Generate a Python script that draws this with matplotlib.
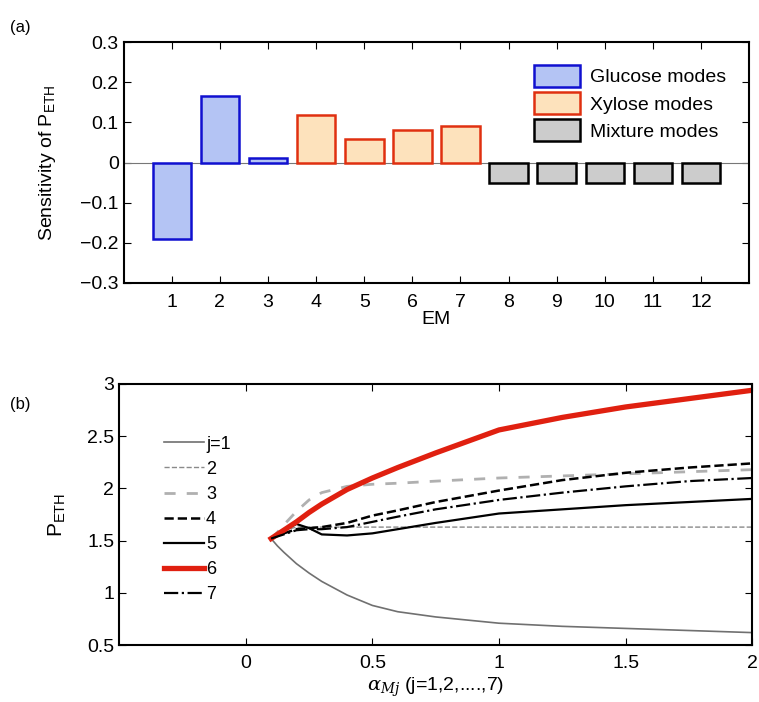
import matplotlib.pyplot as plt
import numpy as np

# (a) sensitivity per elementary mode
em = np.arange(1, 13)
sens = [-0.19, 0.165, 0.012, 0.118, 0.058, 0.080, 0.092,
        -0.052, -0.052, -0.052, -0.052, -0.052]
groups = ['g', 'g', 'g', 'x', 'x', 'x', 'x', 'm', 'm', 'm', 'm', 'm']
group_names = {'g': 'Glucose modes', 'x': 'Xylose modes', 'm': 'Mixture modes'}
fills = {'g': '#b4c4f4', 'x': '#fde2bc', 'm': '#cccccc'}
edges = {'g': '#1010d0', 'x': '#e03010', 'm': '#000000'}

# (b) P_ETH vs alpha
alpha = [0.1, 0.125, 0.15, 0.2, 0.25, 0.3, 0.4, 0.5, 0.6, 0.75, 1.0, 1.25, 1.5, 1.75, 2.0]
p1 = [1.52, 1.45, 1.39, 1.28, 1.19, 1.11, 0.98, 0.88, 0.82, 0.77, 0.71, 0.68, 0.66, 0.64, 0.62]
p2 = [1.52, 1.56, 1.60, 1.63, 1.63, 1.63, 1.63, 1.63, 1.63, 1.63, 1.63, 1.63, 1.63, 1.63, 1.63]
p3 = [1.52, 1.58, 1.65, 1.78, 1.89, 1.96, 2.02, 2.04, 2.05, 2.07, 2.10, 2.12, 2.14, 2.16, 2.18]
p4 = [1.52, 1.55, 1.57, 1.61, 1.62, 1.63, 1.67, 1.74, 1.79, 1.87, 1.98, 2.08, 2.15, 2.20, 2.24]
p5 = [1.52, 1.56, 1.60, 1.66, 1.62, 1.56, 1.55, 1.57, 1.61, 1.67, 1.76, 1.80, 1.84, 1.87, 1.90]
p6 = [1.52, 1.56, 1.60, 1.68, 1.77, 1.85, 1.99, 2.10, 2.20, 2.34, 2.56, 2.68, 2.78, 2.86, 2.94]
p7 = [1.52, 1.54, 1.56, 1.60, 1.61, 1.61, 1.63, 1.68, 1.73, 1.80, 1.89, 1.96, 2.02, 2.07, 2.10]

plt.rcParams['font.family'] = ['Liberation Sans', 'DejaVu Sans']
plt.rcParams['mathtext.fontset'] = 'custom'
plt.rcParams['mathtext.rm'] = 'Liberation Sans'
plt.rcParams['mathtext.it'] = 'DejaVu Serif:italic'
plt.rcParams['font.size'] = 13

fig = plt.figure(figsize=(7.59, 7.02), dpi=100)

ax1 = fig.add_axes([0.163, 0.597, 0.824, 0.343])
seen = set()
for i in range(len(em)):
    g = groups[i]
    lab = group_names[g] if g not in seen else None
    seen.add(g)
    ax1.bar(em[i], sens[i], width=0.8, color=fills[g], edgecolor=edges[g],
            linewidth=1.8, label=lab, zorder=3)
ax1.axhline(0, color='#777777', linewidth=0.8, zorder=2)
ax1.set_xlim(0, 13)
ax1.set_ylim(-0.3, 0.3)
ax1.set_xticks(em)
ax1.set_yticks([-0.3, -0.2, -0.1, 0, 0.1, 0.2, 0.3])
ax1.set_yticklabels(['\u22120.3', '\u22120.2', '\u22120.1', '0', '0.1', '0.2', '0.3'])
ax1.tick_params(direction='in', top=True, right=True, labelsize=14, length=5)
ax1.tick_params(axis='x', pad=8)
ax1.set_xlabel('EM', fontsize=14, labelpad=0)
ax1.set_ylabel(r'Sensitivity of P$_{\rm ETH}$', fontsize=14, labelpad=16)
for s in ax1.spines.values():
    s.set_linewidth(1.5)
ax1.legend(loc='upper right', bbox_to_anchor=(0.985, 0.96), frameon=False, fontsize=14,
           handlelength=2.4, handleheight=1.3, borderaxespad=0.3, labelspacing=0.3,
           handletextpad=0.5)

ax2 = fig.add_axes([0.157, 0.081, 0.834, 0.372])
ax2.plot(alpha, p1, color='#707070', lw=1.2, label='j=1')
ax2.plot(alpha, p2, color='#8a8a8a', lw=1.0, ls='--', label='2')
ax2.plot(alpha, p3, color='#b0b0b0', lw=2.0, ls=(0, (4, 4)), label='3')
ax2.plot(alpha, p4, color='black', lw=1.8, ls='--', label='4')
ax2.plot(alpha, p5, color='black', lw=1.6, label='5')
ax2.plot(alpha, p6, color='#e02010', lw=3.8, label='6')
ax2.plot(alpha, p7, color='black', lw=1.6, ls='-.', label='7')
ax2.set_xlim(-0.5, 2)
ax2.set_ylim(0.5, 3)
ax2.set_xticks([0, 0.5, 1, 1.5, 2])
ax2.set_xticklabels(['0', '0.5', '1', '1.5', '2'])
ax2.set_yticks([0.5, 1, 1.5, 2, 2.5, 3])
ax2.set_yticklabels(['0.5', '1', '1.5', '2', '2.5', '3'])
ax2.tick_params(direction='in', top=True, right=True, labelsize=14, length=5)
ax2.tick_params(axis='x', pad=7)
ax2.set_xlabel(r'$\alpha_{Mj}$ (j=1,2,....,7)', fontsize=14, labelpad=3)
ax2.set_ylabel(r'P$_{\rm ETH}$', fontsize=15, labelpad=14)
for s in ax2.spines.values():
    s.set_linewidth(1.5)
ax2.legend(loc='upper left', bbox_to_anchor=(0.06, 0.83), frameon=False,
           fontsize=13, handlelength=2.2, labelspacing=0.45, handletextpad=0.1,
           borderaxespad=0.0)

fig.text(0.013, 0.955, '(a)', fontsize=12)
fig.text(0.013, 0.418, '(b)', fontsize=12)

fig.savefig('out.png', dpi=100)
